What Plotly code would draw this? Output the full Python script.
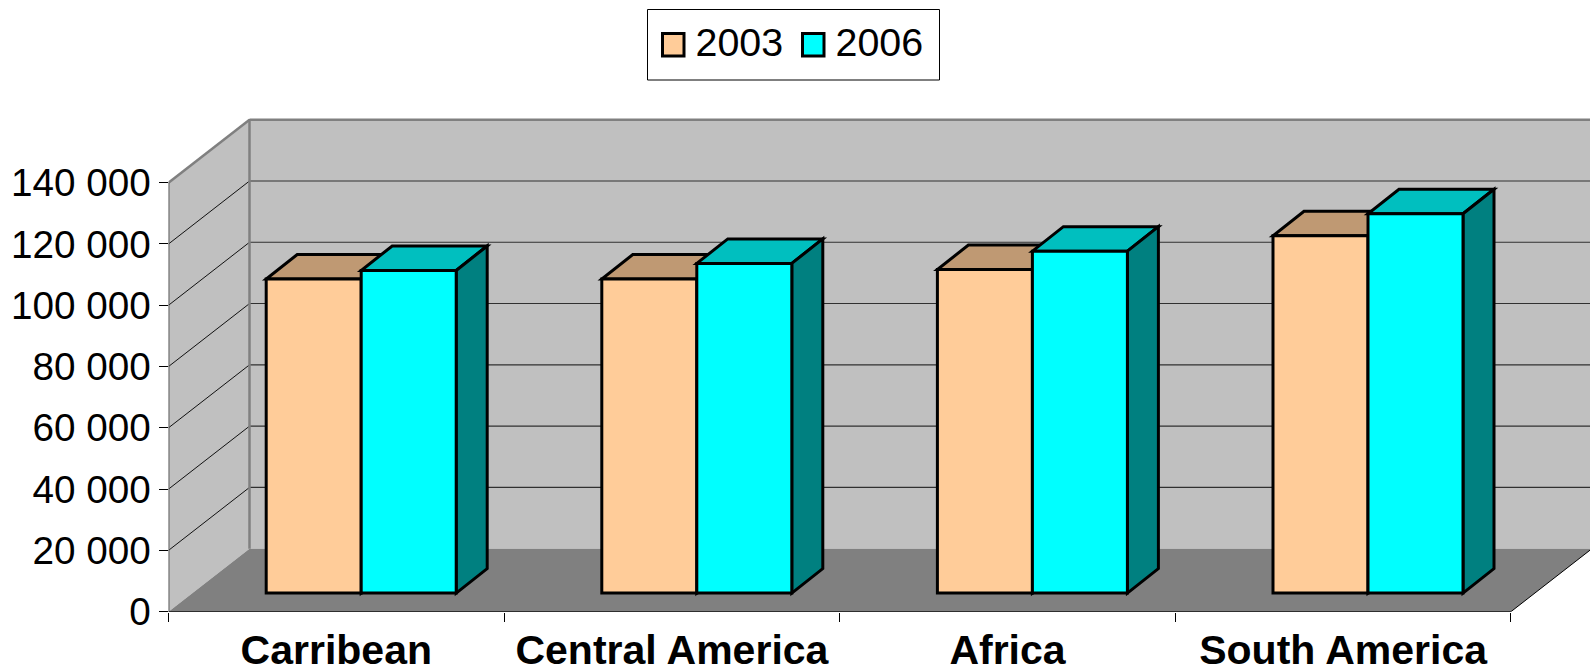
import plotly.graph_objects as go

categories = ["Carribean", "Central America", "Africa", "South America"]
series_names = ["2003", "2006"]
values_2003 = [102500, 102500, 105600, 116600]
values_2006 = [105300, 107600, 111600, 123800]
tick_vals = [0, 20000, 40000, 60000, 80000, 100000, 120000, 140000]
tick_text = ["0", "20 000", "40 000", "60 000", "80 000", "100 000", "120 000", "140 000"]
front_colors = ["#FFCC99", "#00FFFF"]
top_colors = ["#BF9973", "#00BFBF"]
side_colors = ["#7F664C", "#008080"]

W, H = 1590, 672
X0, Y0 = 168.5, 611.7       # pixel position of the axes origin
PX_CAT = 335.6              # pixels per category
PX_UNIT = 429.0 / 140000    # pixels per value unit
FONT = "Liberation Sans"

n = len(categories)
YMAX = tick_vals[-1]
wall_dx = 81 / PX_CAT                # oblique depth of the whole box
wall_dy = 63 / PX_UNIT
front_frac = 0.295                   # depth at which bars begin
bar_dx = 31 / PX_CAT                 # oblique depth of one bar
bar_dy = 24.5 / PX_UNIT
bar_w = 95.0 / PX_CAT
base_x = front_frac * wall_dx + 1 / PX_CAT
base_y = front_frac * wall_dy


def path(points):
    return "M " + " L ".join(f"{x:.5f},{y:.2f}" for x, y in points) + " Z"


shapes = []


def poly(points, fill, line_color=None, width=0, layer="below"):
    shapes.append(dict(type="path", path=path(points), fillcolor=fill, layer=layer,
                       line=dict(color=line_color or fill, width=width)))


def seg(x1, y1, x2, y2, color, width, layer="below"):
    shapes.append(dict(type="line", x0=x1, y0=y1, x1=x2, y1=y2, layer=layer,
                       line=dict(color=color, width=width)))


def paper_rect(x0, y0, x1, y1, fill, line_w, layer="above"):
    shapes.append(dict(type="rect", xref="paper", yref="paper", x0=x0 / W, x1=x1 / W,
                       y0=1 - y0 / H, y1=1 - y1 / H, fillcolor=fill, layer=layer,
                       line=dict(color="#000000", width=line_w)))


# walls and floor
poly([(wall_dx, wall_dy), (n + wall_dx, wall_dy), (n + wall_dx, YMAX + wall_dy), (wall_dx, YMAX + wall_dy)], "#C0C0C0")
poly([(0, 0), (wall_dx, wall_dy), (wall_dx, YMAX + wall_dy), (0, YMAX)], "#C0C0C0")
poly([(0, 0), (wall_dx, wall_dy), (n + wall_dx, wall_dy), (n, 0)], "#808080")
# gridlines
for t in tick_vals[1:-1] + [YMAX]:
    seg(0, t, wall_dx, t + wall_dy, "#111111", 1)
    seg(wall_dx, t + wall_dy, n + wall_dx, t + wall_dy, "#303030", 1.1)
# wall edges
seg(wall_dx, wall_dy, wall_dx, YMAX + wall_dy, "#808080", 2.5)
seg(wall_dx, YMAX + wall_dy, n + wall_dx, YMAX + wall_dy, "#808080", 2.5)
seg(0, YMAX, wall_dx, YMAX + wall_dy, "#808080", 2.5)
seg(0, 0, 0, YMAX, "#606060", 2)
seg(n, 0, n + wall_dx, wall_dy, "#000000", 1)
seg(0, 0, n, 0, "#000000", 1.5)

# top and side faces of the bars, derived from the values
all_values = [values_2003, values_2006]
for i in range(n):
    group_left = i + 0.5 + base_x - bar_w
    for s, vals in enumerate(all_values):
        l = group_left + s * bar_w
        r = l + bar_w
        top = base_y + vals[i]
        poly([(l, top), (r, top), (r + bar_dx, top + bar_dy), (l + bar_dx, top + bar_dy)],
             top_colors[s], "#000000", 3, "between")
        poly([(r, base_y), (r + bar_dx, base_y + bar_dy), (r + bar_dx, top + bar_dy), (r, top)],
             side_colors[s], "#000000", 3, "between")

# legend frame and swatch frames, sitting behind the real legend
paper_rect(647.5, 9.5, 939.5, 80, "#FFFFFF", 1)
paper_rect(662.5, 33.5, 684, 56, front_colors[0], 3)
paper_rect(802.5, 33.5, 824, 56, front_colors[1], 3)

fig = go.Figure()
for s, vals in enumerate(all_values):
    fig.add_trace(go.Bar(
        x=[i + 0.5 + base_x for i in range(n)], y=vals, base=[base_y] * n,
        width=[bar_w] * n, offset=[(s - 1) * bar_w] * n,
        marker=dict(color=front_colors[s], line=dict(color="#000000", width=3)),
        showlegend=False, hoverinfo="y"))
    fig.add_trace(go.Scatter(
        x=[None], y=[None], mode="markers", name=series_names[s],
        marker=dict(symbol="square", size=6, color=front_colors[s], line=dict(width=0))))

fig.update_layout(
    width=W, height=H, margin=dict(l=0, r=0, t=0, b=0, pad=0, autoexpand=False),
    paper_bgcolor="white", plot_bgcolor="white", barmode="overlay",
    font=dict(family=FONT, color="#000000", size=38), shapes=shapes,
    legend=dict(orientation="h", x=655.5 / W, y=1 - 9.0 / H, xanchor="left", yanchor="top",
                bgcolor="rgba(0,0,0,0)", borderwidth=0,
                entrywidth=95, entrywidthmode="pixels",
                font=dict(family=FONT, size=39.4, color="#000000")),
    xaxis=dict(domain=[X0 / W, 1], range=[0, (W - X0) / PX_CAT], showgrid=False, zeroline=False,
               tickmode="array", tickvals=[i + 0.5 for i in range(n)], ticktext=categories, ticks="",
               ticklabelstandoff=10,
               tickfont=dict(family=FONT, size=41, color="#000000", weight="bold"),
               minor=dict(tickmode="array", tickvals=list(range(n + 1)), ticks="outside", ticklen=9,
                          tickwidth=1, tickcolor="#000000", showgrid=False)),
    yaxis=dict(domain=[(H - Y0) / H, 1 - 100.0 / H], range=[0, (Y0 - 100) / PX_UNIT], showgrid=False, zeroline=False,
               tickmode="array", tickvals=tick_vals, ticktext=tick_text, ticks="outside", ticklen=9,
               tickwidth=1, tickcolor="#000000",
               tickfont=dict(family=FONT, size=38.7, color="#000000")),
)
fig.write_html("out.html", config={"displayModeBar": False},
               post_script="document.body.style.margin='0';")
